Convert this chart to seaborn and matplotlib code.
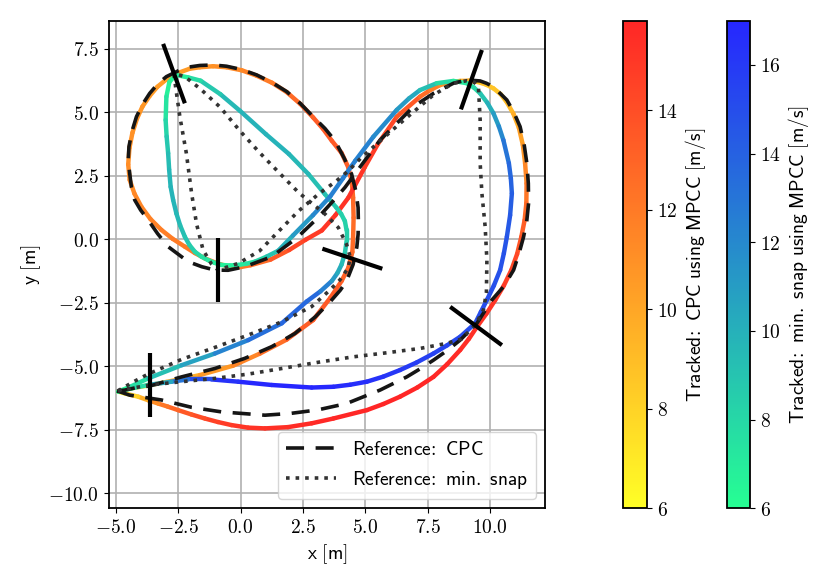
import numpy as np
import matplotlib
matplotlib.use("Agg")
import matplotlib.pyplot as plt
import seaborn as sns
from matplotlib.collections import LineCollection
from matplotlib.colors import Normalize, ListedColormap
from matplotlib.ticker import FuncFormatter

# reference paths (start/finish at the left tip)
cpc_ref_x = [-4.95, -4.64, -4.11, -3.64, -2.36, -1.03, 0.17, 1.25, 2.18, 3.00, 3.60, 4.00, 4.25, 4.51,
             4.66, 4.71, 4.72, 4.71, 4.62, 4.45, 4.15, 3.79, 3.38, 2.91, 2.40, 1.85, 1.26, 0.64, 0.04,
             -0.56, -1.10, -1.63, -2.05, -2.43, -2.97, -3.32, -3.64, -3.93, -4.17, -4.35, -4.47, -4.50,
             -4.44, -4.37, -4.24, -4.00, -3.70, -3.32, -2.90, -2.10, -1.55, -1.03, -0.50, 0.17, 1.24,
             2.25, 3.10, 3.70, 4.18, 4.97, 5.59, 6.26, 6.93, 7.73, 8.53, 9.07, 9.60, 9.85, 10.13,
             10.67, 10.95, 11.20, 11.36, 11.47, 11.53, 11.54, 11.47, 11.34, 11.16, 10.94, 10.55,
             10.07, 9.47, 8.80, 8.28, 7.73, 7.20, 6.66, 5.59, 4.25, 3.10, 2.00, 0.98, -0.76, -1.96,
             -3.17, -4.44, -4.95]
cpc_ref_y = [-5.97, -5.94, -5.83, -5.78, -5.42, -5.09, -4.69, -4.23, -3.71, -3.05, -2.45, -2.00, -1.64,
             -0.99, -0.30, 0.20, 0.75, 1.25, 1.90, 2.57, 3.20, 3.88, 4.37, 4.83, 5.35, 5.82, 6.18,
             6.48, 6.69, 6.82, 6.87, 6.85, 6.79, 6.67, 6.41, 6.12, 5.75, 5.31, 4.83, 4.25, 3.65,
             3.10, 2.60, 2.05, 1.55, 1.15, 0.76, 0.22, -0.29, -0.88, -1.08, -1.21, -1.22, -1.08,
             -0.69, 0.05, 0.85, 1.50, 2.04, 3.09, 3.91, 4.57, 5.23, 5.75, 6.15, 6.28, 6.24, 6.15,
             6.01, 5.49, 5.00, 4.44, 3.75, 3.00, 2.20, 1.42, 0.75, 0.10, -0.55, -1.21, -1.85, -2.39,
             -3.31, -3.97, -4.38, -4.76, -5.10, -5.42, -5.94, -6.47, -6.72, -6.86, -6.93, -6.80,
             -6.62, -6.33, -6.14, -5.97]

snap_ref_x = [-4.91, -4.30, -3.70, -2.36, -1.03, 0.31, 1.65, 2.85, 3.58, 3.98, 4.30, 4.40, 4.25, 3.92,
              3.39, 2.98, 2.33, 1.54, 0.76, -0.03, -0.81, -1.60, -2.23, -2.67, -2.60, -2.43, -2.17,
              -1.96, -1.76, -1.50, -1.16, -0.90, -0.09, 0.76, 1.54, 2.33, 3.12, 3.84, 4.32, 4.84,
              6.39, 7.73, 8.53, 9.07, 9.35, 9.53, 9.60, 9.60, 9.67, 9.80, 9.87, 9.85, 9.73, 9.40,
              8.85, 8.26, 7.19, 5.86, 4.52, 3.20, 1.65, 0.31, -1.03, -2.36, -3.64, -4.37, -4.91]
snap_ref_y = [-5.97, -5.62, -5.31, -4.73, -4.26, -3.77, -3.25, -2.65, -2.00, -1.60, -1.15, -0.72,
              -0.20, 0.46, 0.99, 1.32, 1.84, 2.63, 3.42, 4.28, 5.20, 5.92, 6.41, 6.53, 6.00, 4.83,
              3.39, 1.81, 0.60, -0.42, -0.98, -1.21, -0.95, -0.46, 0.33, 1.12, 1.78, 2.30, 2.70,
              3.22, 4.57, 5.69, 6.15, 6.25, 6.20, 6.01, 4.70, 3.00, 1.81, 0.50, -0.82, -2.10, -2.79,
              -3.38, -3.93, -4.10, -4.30, -4.47, -4.63, -4.83, -5.09, -5.31, -5.48, -5.61, -5.74,
              -5.87, -5.97]

# tracked paths with speed [m/s]
cpc_trk_x = [-4.90, -4.37, -3.64, -2.97, -1.63, -0.30, 0.78, 1.85, 2.91, 3.60, 4.05, 4.32, 4.48, 4.51,
             4.53, 4.51, 4.46, 4.32, 4.05, 3.66, 3.30, 2.91, 2.40, 1.85, 1.26, 0.64, 0.05, -0.56,
             -1.10, -1.63, -2.04, -2.43, -2.71, -2.97, -3.33, -3.64, -3.93, -4.15, -4.33, -4.45,
             -4.50, -4.44, -4.25, -3.97, -3.61, -3.17, -2.72, -2.23, -1.83, -1.43, -0.90, -0.36,
             0.02, 0.40, 1.20, 1.95, 2.60, 3.26, 3.80, 4.32, 4.97, 5.50, 6.26, 7.19, 7.60, 8.00,
             8.40, 8.80, 9.15, 9.50, 9.83, 10.13, 10.42, 10.67, 10.93, 11.15, 11.31, 11.40, 11.46,
             11.45, 11.38, 11.25, 11.08, 10.85, 10.55, 10.20, 9.85, 9.47, 9.15, 8.80, 8.28, 7.73,
             7.08, 6.39, 5.72, 5.06, 3.72, 2.85, 1.90, 0.98, 0.30, -0.36, -0.90, -1.43, -1.97,
             -2.50, -2.92, -3.30, -3.70, -4.10, -4.64, -4.90]
cpc_trk_y = [-6.00, -5.87, -5.75, -5.62, -5.35, -4.98, -4.50, -3.95, -3.18, -2.30, -1.64, -1.12,
             -0.50, 0.07, 0.85, 1.64, 2.25, 2.83, 3.40, 3.88, 4.36, 4.80, 5.33, 5.80, 6.17, 6.45,
             6.66, 6.78, 6.82, 6.78, 6.72, 6.58, 6.46, 6.30, 6.01, 5.65, 5.23, 4.75, 4.20, 3.60,
             2.95, 2.34, 1.80, 1.28, 0.80, 0.37, 0.02, -0.29, -0.54, -0.75, -0.96, -1.10, -1.09,
             -1.02, -0.80, -0.42, -0.02, 0.35, 0.95, 1.64, 2.83, 3.75, 4.83, 5.62, 5.88, 6.08, 6.19,
             6.24, 6.25, 6.20, 6.10, 5.95, 5.72, 5.40, 4.95, 4.40, 3.72, 3.00, 2.20, 1.42, 0.75,
             0.10, -0.58, -1.21, -1.82, -2.40, -2.93, -3.45, -3.92, -4.36, -4.92, -5.42, -5.84,
             -6.20, -6.49, -6.73, -7.06, -7.25, -7.40, -7.45, -7.42, -7.32, -7.20, -7.06, -6.90,
             -6.73, -6.59, -6.47, -6.34, -6.20, -6.07, -6.00]
cpc_trk_v = [6.0, 7.0, 8.5, 9.3, 10.2, 11.0, 12.0, 13.0, 13.5, 13.5, 13.3, 13.0, 12.8, 12.6, 12.6,
             12.8, 13.0, 13.2, 13.4, 13.5, 13.4, 13.3, 12.9, 12.5, 12.1, 11.8, 11.5, 11.2, 11.0,
             10.8, 10.6, 10.5, 10.5, 10.5, 10.5, 10.6, 10.7, 10.8, 10.9, 11.0, 11.1, 11.2, 11.3,
             11.5, 11.6, 11.8, 11.9, 12.0, 12.0, 12.0, 12.0, 12.0, 12.1, 12.3, 13.0, 14.0, 14.6,
             15.0, 15.2, 15.3, 15.0, 14.6, 14.0, 13.0, 12.2, 11.5, 10.7, 10.0, 9.4, 9.0, 8.7, 8.6,
             8.7, 9.0, 9.4, 10.0, 10.5, 11.0, 11.8, 12.5, 13.0, 13.5, 14.0, 14.5, 14.8, 15.0, 15.2,
             15.3, 15.4, 15.5, 15.6, 15.7, 15.75, 15.8, 15.8, 15.8, 15.7, 15.6, 15.45, 15.3, 15.15,
             15.0, 14.7, 14.3, 13.8, 13.3, 12.6, 11.8, 10.5, 9.0, 7.2, 6.2]

snap_trk_x = [-4.90, -4.40, -3.70, -2.36, -1.03, 0.31, 1.65, 2.65, 3.20, 3.66, 3.88, 4.05, 4.18, 4.25,
              4.25, 4.18, 4.03, 3.84, 3.38, 2.72, 1.94, 1.02, -0.03, -0.81, -1.60, -2.10, -2.60,
              -2.85, -2.97, -3.00, -2.96, -2.90, -2.86, -2.80, -2.70, -2.57, -2.42, -2.23, -2.05,
              -1.83, -1.57, -1.30, -1.03, -0.76, -0.43, -0.10, 0.24, 0.58, 1.05, 1.51, 2.10, 2.90,
              3.60, 4.10, 4.60, 5.32, 6.26, 6.75, 7.19, 7.86, 8.53, 9.07, 9.35, 9.60, 9.88, 10.13,
              10.35, 10.53, 10.75, 10.83, 10.87, 10.80, 10.67, 10.55, 10.40, 10.15, 9.87, 9.63,
              9.40, 8.80, 8.27, 7.73, 7.06, 6.39, 5.72, 5.06, 4.39, 3.72, 2.85, 1.25, -0.09, -1.16,
              -2.10, -2.77, -3.70, -4.40, -4.90]
snap_trk_y = [-6.00, -5.80, -5.48, -4.96, -4.50, -3.97, -3.31, -2.45, -2.05, -1.64, -1.33, -0.99,
              -0.55, -0.07, 0.35, 0.72, 1.00, 1.25, 1.78, 2.57, 3.36, 4.14, 5.07, 5.72, 6.25, 6.38,
              6.48, 6.20, 5.62, 4.70, 4.05, 3.39, 2.75, 2.07, 1.55, 1.02, 0.55, 0.10, -0.22, -0.49,
              -0.68, -0.82, -0.93, -1.01, -1.03, -1.01, -0.96, -0.88, -0.68, -0.45, 0.15, 0.95, 1.70,
              2.40, 3.10, 4.04, 5.10, 5.55, 5.88, 6.15, 6.24, 6.15, 5.98, 5.75, 5.39, 4.97, 4.45,
              3.91, 3.00, 2.40, 1.81, 0.95, 0.10, -0.55, -1.21, -1.82, -2.39, -2.86, -3.31, -3.84,
              -4.18, -4.50, -4.85, -5.15, -5.41, -5.61, -5.73, -5.81, -5.84, -5.74, -5.61, -5.52,
              -5.52, -5.61, -5.74, -5.88, -6.00]
snap_trk_v = [6.0, 7.0, 8.5, 10.0, 11.5, 13.0, 13.6, 13.8, 13.3, 11.5, 10.7, 9.8, 9.2, 8.6, 8.4, 8.3,
              8.4, 8.5, 9.0, 9.5, 9.8, 10.0, 9.8, 9.3, 8.3, 7.3, 6.5, 6.5, 7.0, 7.8, 8.5, 9.2, 9.6,
              9.8, 9.8, 9.7, 9.5, 9.2, 8.8, 8.3, 7.8, 7.3, 7.0, 6.8, 6.8, 7.0, 7.3, 7.8, 8.6, 9.5,
              10.5, 11.8, 12.3, 12.5, 12.5, 12.2, 11.5, 10.8, 10.0, 8.5, 7.3, 7.0, 7.6, 8.5, 9.5,
              10.5, 11.5, 12.5, 13.5, 13.8, 14.0, 14.3, 14.5, 14.7, 14.8, 14.9, 15.0, 15.0, 15.0,
              15.2, 15.35, 15.5, 15.75, 16.0, 16.25, 16.5, 16.65, 16.8, 17.0, 17.0, 16.8, 16.0,
              14.0, 12.0, 9.0, 7.0, 6.0]

# gates: end points of each gate bar
gate_x0 = [-0.90, 3.28, 8.40, -3.64, -3.10, 9.67]
gate_y0 = [0.04, -0.37, -2.66, -4.47, 7.70, 7.46]
gate_x1 = [-0.90, 5.68, 10.47, -3.64, -2.23, 8.83]
gate_y1 = [-2.46, -1.16, -4.17, -6.99, 5.36, 5.12]

sns.set_style("ticks", {"axes.edgecolor": "black", "grid.color": "#b0b0b0",
                        "xtick.color": "black", "ytick.color": "black",
                        "text.color": "black", "axes.labelcolor": "black"})
plt.rcParams["font.family"] = ["DejaVu Sans"]
plt.rcParams["mathtext.fontset"] = "cm"
plt.rcParams["font.size"] = 14
plt.rcParams["axes.linewidth"] = 1.3

fig = plt.figure(figsize=(8.3, 5.87), dpi=100)
ax = fig.add_axes([0.131, 0.134, 0.526, 0.831])
cax1 = fig.add_axes([0.7506, 0.134, 0.0289, 0.831])
cax2 = fig.add_axes([0.876, 0.134, 0.0277, 0.831])


def faded(name):
    # colormap as drawn with a little transparency on white
    cols = plt.get_cmap(name)(np.linspace(0, 1, 256))
    cols[:, :3] = cols[:, :3] * 0.85 + 0.15
    return ListedColormap(cols)


def colored_line(ax, x, y, v, cmap):
    pts = np.column_stack([x, y])
    segs = np.stack([pts[:-1], pts[1:]], axis=1)
    v = np.asarray(v)
    lc = LineCollection(segs, cmap=faded(cmap), norm=Normalize(v.min(), v.max()),
                        linewidth=3.2, capstyle="round", joinstyle="round", zorder=2)
    lc.set_array((v[:-1] + v[1:]) / 2)
    ax.add_collection(lc)
    return lc


lc_cpc = colored_line(ax, cpc_trk_x, cpc_trk_y, cpc_trk_v, "autumn_r")
lc_snap = colored_line(ax, snap_trk_x, snap_trk_y, snap_trk_v, "winter_r")

sns.lineplot(x=cpc_ref_x, y=cpc_ref_y, sort=False, estimator=None, ax=ax, color="#151515",
             linewidth=2.6, linestyle=(0, (5, 3.2)), label=r"$\mathsf{Reference\!:\ CPC}$", zorder=3)
sns.lineplot(x=snap_ref_x, y=snap_ref_y, sort=False, estimator=None, ax=ax, color="#333333",
             linewidth=2.6, linestyle=":", label=r"$\mathsf{Reference\!:\ min.\ snap}$", zorder=3)

for x0, y0, x1, y1 in zip(gate_x0, gate_y0, gate_x1, gate_y1):
    ax.plot([x0, x1], [y0, y1], color="black", linewidth=3, solid_capstyle="butt", zorder=4)

ax.set_xlim(-5.28, 12.21)
ax.set_ylim(-10.6, 8.62)
ax.set_xticks(np.arange(-5, 10.1, 2.5))
ax.set_yticks(np.arange(-10, 7.6, 2.5))
fmt1 = FuncFormatter(lambda v, p: f"${v:.1f}$")
ax.xaxis.set_major_formatter(fmt1)
ax.yaxis.set_major_formatter(fmt1)
ax.grid(True, linewidth=1.2)
ax.set_axisbelow(True)
ax.set_xlabel(r"$\mathsf{x\ [m]}$")
ax.set_ylabel(r"$\mathsf{y\ [m]}$")
ax.legend(loc="lower right", handlelength=2.6, fontsize=14)

fmt0 = FuncFormatter(lambda v, p: f"${v:.0f}$")
cb1 = fig.colorbar(lc_cpc, cax=cax1)
cb1.set_label(r"$\mathsf{Tracked\!:\ CPC\ using\ MPCC\ [m/s]}$")
cb1.ax.yaxis.set_major_formatter(fmt0)
cb2 = fig.colorbar(lc_snap, cax=cax2)
cb2.set_label(r"$\mathsf{Tracked\!:\ min.\ snap\ using\ MPCC\ [m/s]}$")
cb2.ax.yaxis.set_major_formatter(fmt0)
for cb in (cb1, cb2):
    cb.outline.set_linewidth(1.3)

fig.savefig("out.png", dpi=100)
